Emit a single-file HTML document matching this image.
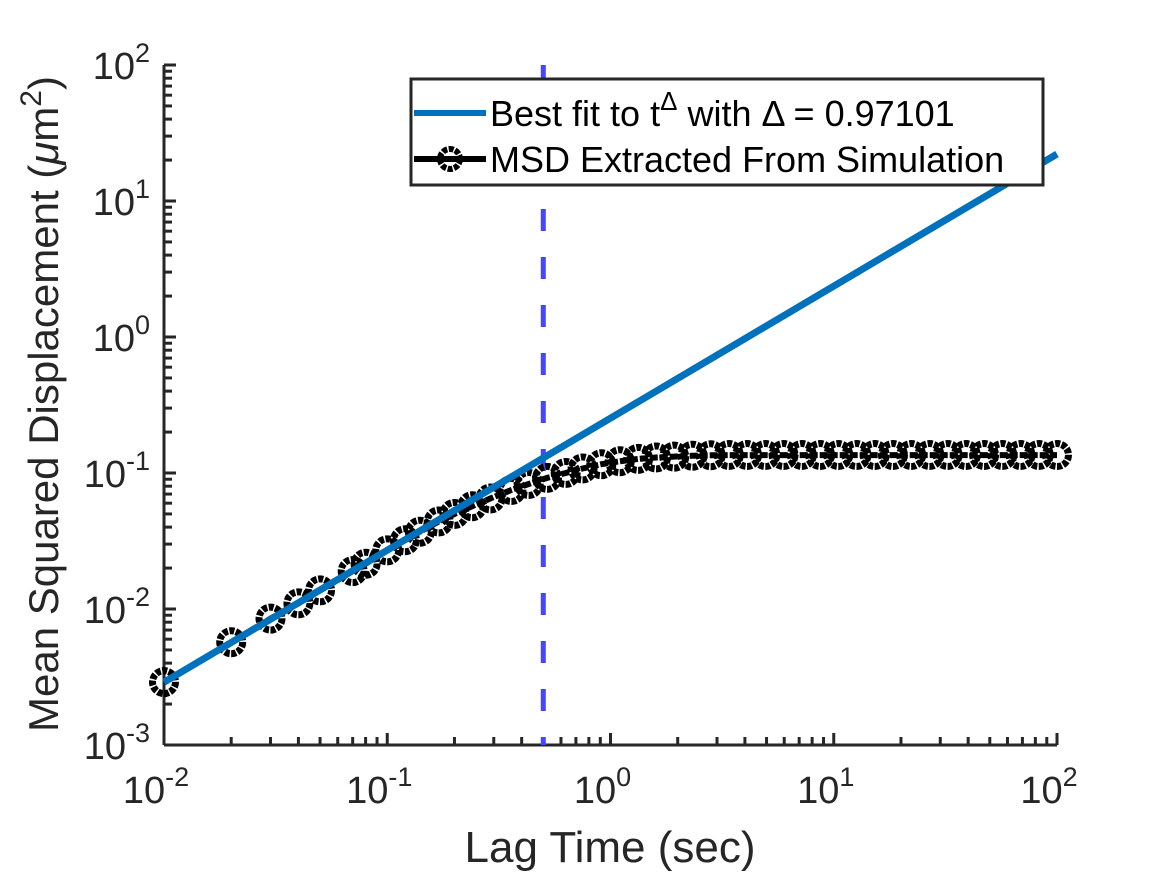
<!DOCTYPE html>
<html><head><meta charset="utf-8"><style>
html,body{margin:0;padding:0;background:#fff;}
svg{display:block;font-family:"Liberation Sans",sans-serif;}
</style></head><body>
<svg id="chart" width="1167" height="875" viewBox="0 0 1167 875" xmlns="http://www.w3.org/2000/svg">
<g id="axes"></g>
<g id="plot"></g>
<g id="legend">
  <rect x="411" y="79" width="632" height="106" fill="#fff" stroke="#262626" stroke-width="3"/>
  <line x1="414" y1="113" x2="486" y2="113" stroke="#0072BD" stroke-width="6"/>
  <text x="490" y="126" font-size="36" fill="#000">Best fit to t<tspan dy="-16" font-size="26">Δ</tspan><tspan dy="16"> with Δ = 0.97101</tspan></text>
  <line x1="414" y1="159" x2="486" y2="159" stroke="#000" stroke-width="6"/>
  <circle cx="450" cy="159" r="10" fill="none" stroke="#000" stroke-width="6" stroke-dasharray="5 1.5"/>
  <text x="490" y="172" font-size="36" fill="#000">MSD Extracted From Simulation</text>
</g>
<text x="610" y="862" font-size="44" text-anchor="middle" fill="#262626">Lag Time (sec)</text>
<text transform="translate(58,404) rotate(-90)" font-size="42" text-anchor="middle" fill="#262626">Mean Squared Displacement (<tspan font-style="italic">μ</tspan>m<tspan dy="-17" font-size="30">2</tspan><tspan dy="17">)</tspan></text>
</svg>
<script>
const lagTimes=[0.01,0.02,0.03,0.04,0.05,0.07,0.08,0.10,0.12,0.14,0.17,0.20,0.24,0.29,0.36,0.43,0.52,0.63,0.75,0.91,1.10,1.33,1.60,1.93,2.33,2.81,3.39,4.09,4.94,5.96,7.20,8.69,10.48,12.65,15.26,18.42,22.23,26.83,32.37,39.07,47.15,56.90,68.66,82.86,100];
const msdValues=[0.0029,0.0057,0.0085,0.011,0.0137,0.019,0.0215,0.027,0.032,0.037,0.044,0.050,0.057,0.065,0.075,0.083,0.092,0.100,0.108,0.116,0.122,0.127,0.130,0.132,0.134,0.135,0.1355,0.1355,0.1355,0.1355,0.1355,0.1355,0.1355,0.1355,0.1355,0.1355,0.1355,0.1355,0.1355,0.1355,0.1355,0.1355,0.1355,0.1355,0.1355];
const fitExponent=0.97101;
const fitPrefactor=0.253;
const fitRange=[0.01,100];
const cutoffTime=0.5;
const xTickLabels=["-2","-1","0","1","2"];
const yTickLabels=["-3","-2","-1","0","1","2"];
const X0=164,X1=1057,Y0=745,Y1=65,xMin=-2,xMax=2,yMin=-3,yMax=2;
const sx=v=>X0+(Math.log10(v)-xMin)/(xMax-xMin)*(X1-X0);
const sy=v=>Y0-(Math.log10(v)-yMin)/(yMax-yMin)*(Y0-Y1);
const NS="http://www.w3.org/2000/svg";
function mk(tag,parent,attrs){const e=document.createElementNS(NS,tag);for(const k in attrs)e.setAttribute(k,attrs[k]);parent.appendChild(e);return e;}
const axes=document.getElementById('axes'),plot=document.getElementById('plot');
let e;
e=mk('line',axes,{x1:X0,y1:Y0,x2:X1,y2:Y0,stroke:'#262626','stroke-width':3});


e=mk('line',axes,{x1:X0,y1:Y0,x2:X0,y2:Y1,stroke:'#262626','stroke-width':3});


xTickLabels.forEach((lab,i)=>{
  const p=+lab;const x=sx(Math.pow(10,p));
  let t=mk('line',axes,{x1:x,y1:Y0,x2:x,y2:Y0-12,stroke:'#262626','stroke-width':3});
  
  
  const tx=mk('text',axes,{x:x-8,y:Y0+58,'font-size':38,'text-anchor':'middle',fill:'#262626'});
  
  
  tx.innerHTML='10<tspan dy="-17" font-size="27">'+lab+'</tspan>';
  if(i<xTickLabels.length-1){for(let m=2;m<=9;m++){const xm=sx(m*Math.pow(10,p));
    const mt=mk('line',axes,{x1:xm,y1:Y0,x2:xm,y2:Y0-8,stroke:'#262626','stroke-width':3});
    
    }}
});
yTickLabels.forEach((lab,i)=>{
  const p=+lab;const y=sy(Math.pow(10,p));
  let t=mk('line',axes,{x1:X0,y1:y,x2:X0+12,y2:y,stroke:'#262626','stroke-width':3});
  
  
  const tx=mk('text',axes,{x:150,y:y+14,'font-size':38,'text-anchor':'end',fill:'#262626'});
  
  
  tx.innerHTML='10<tspan dy="-17" font-size="27">'+lab+'</tspan>';
  if(i<yTickLabels.length-1){for(let m=2;m<=9;m++){const ym=sy(m*Math.pow(10,p));
    const mt=mk('line',axes,{x1:X0,y1:ym,x2:X0+8,y2:ym,stroke:'#262626','stroke-width':3});
    
    }}
});
e=mk('line',plot,{x1:sx(cutoffTime),y1:Y1,x2:sx(cutoffTime),y2:Y0,stroke:'#4646ff','stroke-width':5,'stroke-dasharray':'22 26'});


let d=lagTimes.map((t,i)=>(i?'L':'M')+sx(t).toFixed(1)+','+sy(msdValues[i]).toFixed(1)).join('');
e=mk('path',plot,{d:d,fill:'none',stroke:'#000','stroke-width':6,'stroke-dasharray':'8 2'});


lagTimes.forEach((t,i)=>{
  const c=mk('circle',plot,{cx:sx(t),cy:sy(msdValues[i]),r:11.5,fill:'none',stroke:'#000','stroke-width':7,'stroke-dasharray':'5 1.5'});
  
  
});
const f=t=>fitPrefactor*Math.pow(t,fitExponent);
e=mk('line',plot,{x1:sx(fitRange[0]),y1:sy(f(fitRange[0])),x2:sx(fitRange[1]),y2:sy(f(fitRange[1])),stroke:'#0072BD','stroke-width':7});


</script>
</body></html>
